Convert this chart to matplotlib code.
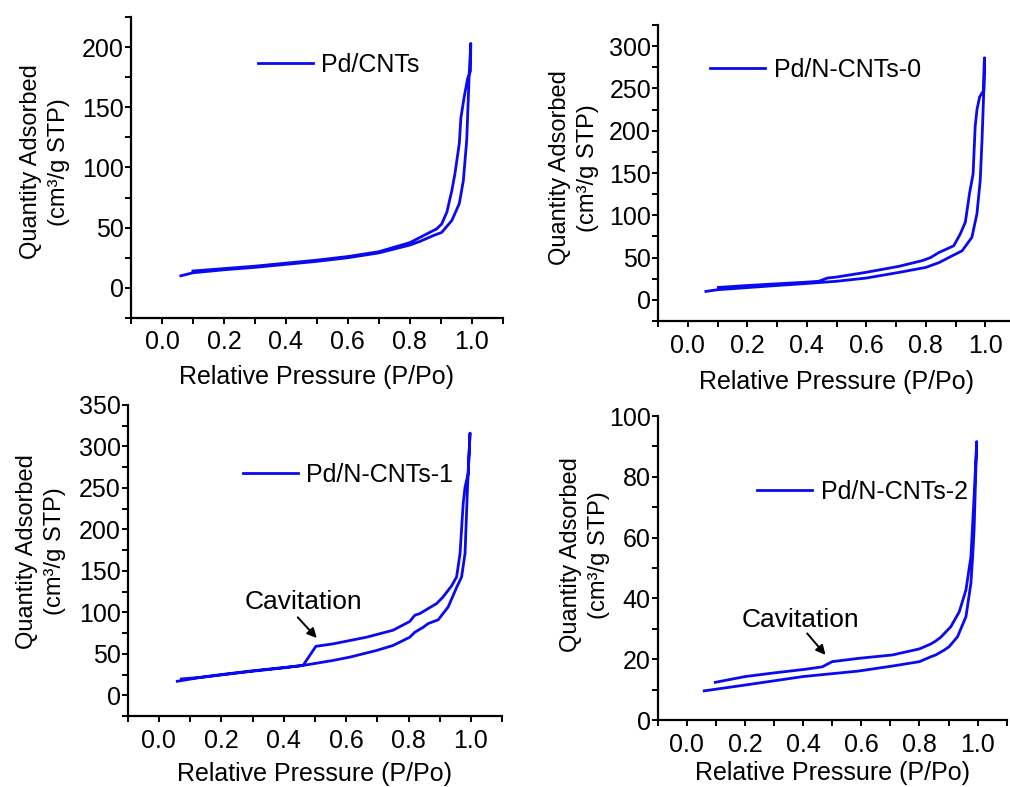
import numpy as np
import matplotlib
matplotlib.use('Agg')
import matplotlib.pyplot as plt
from matplotlib.ticker import MultipleLocator

plt.rcParams['font.family'] = ['Liberation Sans', 'DejaVu Sans']

# N2 isotherms, adsorption branch then desorption branch (P/Po, cm3/g STP)
labels = ['Pd/CNTs', 'Pd/N-CNTs-0', 'Pd/N-CNTs-1', 'Pd/N-CNTs-2']

ads_x_cnt = [0.061, 0.10, 0.20, 0.30, 0.40, 0.50, 0.60, 0.70, 0.80, 0.834, 0.876, 0.903, 0.936, 0.960, 0.973, 0.984, 0.992, 0.997]
ads_y_cnt = [10, 12.5, 15, 17, 19.5, 22, 25, 29, 35.5, 38.7, 43.4, 46, 56, 70, 89, 123, 178, 203]
des_x_cnt = [0.997, 0.996, 0.987, 0.976, 0.965, 0.960, 0.946, 0.936, 0.920, 0.903, 0.887, 0.834, 0.80, 0.70, 0.60, 0.50, 0.40, 0.30, 0.20, 0.10]
des_y_cnt = [203, 180, 174, 159, 141, 120, 95, 81, 63, 53, 49, 42, 37.5, 30, 26, 23, 20.5, 18, 16, 14]

ads_x_n0 = [0.061, 0.10, 0.20, 0.30, 0.40, 0.50, 0.60, 0.71, 0.80, 0.844, 0.888, 0.922, 0.955, 0.972, 0.983, 0.989, 0.995, 0.997]
ads_y_n0 = [10, 12, 14.5, 17, 19.4, 22, 25.8, 32.5, 38.4, 44, 52, 58, 74, 102, 141.5, 189, 248, 286]
des_x_n0 = [0.997, 0.995, 0.981, 0.972, 0.966, 0.959, 0.947, 0.933, 0.916, 0.894, 0.86, 0.844, 0.816, 0.788, 0.709, 0.598, 0.50, 0.469, 0.44, 0.40, 0.30, 0.20, 0.103]
des_y_n0 = [286, 248, 240, 225, 205, 149, 126, 92, 78, 64, 58.5, 56, 50, 46.4, 39.6, 32.5, 27, 25.8, 22, 21, 19, 17, 14.7]

ads_x_n1 = [0.059, 0.13, 0.20, 0.30, 0.40, 0.462, 0.558, 0.612, 0.697, 0.75, 0.804, 0.82, 0.847, 0.863, 0.895, 0.927, 0.954, 0.970, 0.981, 0.989, 0.991, 0.997]
ads_y_n1 = [16.9, 21.3, 24.5, 29, 33, 36, 42, 46, 54, 60, 70, 76, 82, 86.5, 91, 106.5, 130, 142.7, 171, 251, 267, 316]
des_x_n1 = [0.997, 0.991, 0.981, 0.975, 0.965, 0.954, 0.938, 0.911, 0.89, 0.836, 0.82, 0.804, 0.75, 0.665, 0.558, 0.503, 0.462, 0.40, 0.30, 0.20, 0.13, 0.072]
des_y_n1 = [316, 267, 251, 231, 171, 142.7, 132, 118.7, 110.6, 98.5, 96.5, 89, 78.4, 70, 62, 59, 36, 33.5, 29.5, 25, 21.5, 19.7]

ads_x_n2 = [0.06, 0.20, 0.40, 0.59, 0.71, 0.80, 0.839, 0.856, 0.885, 0.902, 0.931, 0.96, 0.977, 0.983, 0.988, 0.992, 0.997]
ads_y_n2 = [9.6, 11.5, 14.3, 16.1, 17.8, 19.2, 20.8, 21.4, 23, 24.1, 27.4, 34, 45, 53.7, 62.5, 75.7, 91.6]
des_x_n2 = [0.997, 0.988, 0.977, 0.96, 0.937, 0.908, 0.873, 0.856, 0.839, 0.80, 0.707, 0.592, 0.50, 0.466, 0.408, 0.30, 0.201, 0.098]
des_y_n2 = [91.6, 73.5, 53.7, 42.8, 35.6, 30.7, 27.2, 26.0, 25.0, 23.4, 21.4, 20.3, 19.2, 17.5, 16.7, 15.5, 14.3, 12.4]

line_color = '#0a0af0'
fs = 18


def draw_isotherm(rect, ads_x, ads_y, des_x, des_y, label, ylim, ystep, leg_xy, ylab_xy, xlab_y):
    ax = fig.add_axes(rect)
    ax.plot(ads_x + des_x, ads_y + des_y, color=line_color, lw=2.0,
            solid_joinstyle='round', label=label)

    ax.set_xlim(-0.1, 1.1)
    ax.set_ylim(*ylim)
    ax.xaxis.set_major_locator(MultipleLocator(0.2))
    ax.xaxis.set_minor_locator(MultipleLocator(0.1))
    ax.yaxis.set_major_locator(MultipleLocator(ystep))
    ax.yaxis.set_minor_locator(MultipleLocator(ystep / 2))
    ax.xaxis.set_major_formatter(lambda v, p: f'{v:.1f}')

    for s in ['top', 'right']:
        ax.spines[s].set_visible(False)
    for s in ['left', 'bottom']:
        ax.spines[s].set_linewidth(1.6)
    ax.tick_params(which='both', direction='out', length=4, width=1.4)
    ax.tick_params(axis='x', labelsize=fs, pad=5)
    ax.tick_params(axis='y', labelsize=fs, pad=1)

    ax.set_xlabel('Relative Pressure (P/Po)', fontsize=fs)
    ax.xaxis.set_label_coords(0.5, xlab_y)
    ax.set_ylabel('Quantity Adsorbed\n(cm³/g STP)', fontsize=17, va='center', linespacing=1.35)
    ax.yaxis.set_label_coords(*ylab_xy)

    ax.legend(loc='center left', bbox_to_anchor=leg_xy, frameon=False, fontsize=fs,
              handlelength=2.2, handletextpad=0.35, borderpad=0, borderaxespad=0)
    return ax


fig = plt.figure(figsize=(10.1, 7.87), dpi=100)

draw_isotherm([0.1297, 0.596, 0.368, 0.3825], ads_x_cnt, ads_y_cnt, des_x_cnt, des_y_cnt,
              labels[0], (-25, 225), 50, (0.341, 0.84), (-0.232, 0.518), -0.155)
draw_isotherm([0.6515, 0.5921, 0.3535, 0.3761], ads_x_n0, ads_y_n0, des_x_n0, des_y_n0,
              labels[1], (-25, 325), 50, (0.146, 0.848), (-0.235, 0.517), -0.165)
ax3 = draw_isotherm([0.1264, 0.0902, 0.3708, 0.3952], ads_x_n1, ads_y_n1, des_x_n1, des_y_n1,
                    labels[2], (-25, 350), 50, (0.307, 0.775), (-0.232, 0.53), -0.148)
ax4 = draw_isotherm([0.6512, 0.0851, 0.3455, 0.3863], ads_x_n2, ads_y_n2, des_x_n2, des_y_n2,
                    labels[3], (0, 100), 20, (0.284, 0.751), (-0.208, 0.543), -0.135)

# cavitation markers
arrow = dict(arrowstyle='-|>', color='black', lw=1.4, mutation_scale=14, shrinkA=0, shrinkB=0)
ax3.annotate('', xy=(0.506, 69), xytext=(0.445, 94), arrowprops=arrow)
ax3.text(0.464, 113, 'Cavitation', fontsize=19, ha='center', va='center')
ax4.annotate('', xy=(0.477, 21.4), xytext=(0.414, 28.5), arrowprops=arrow)
ax4.text(0.391, 32.9, 'Cavitation', fontsize=19, ha='center', va='center')

plt.savefig('out.png', dpi=100)
